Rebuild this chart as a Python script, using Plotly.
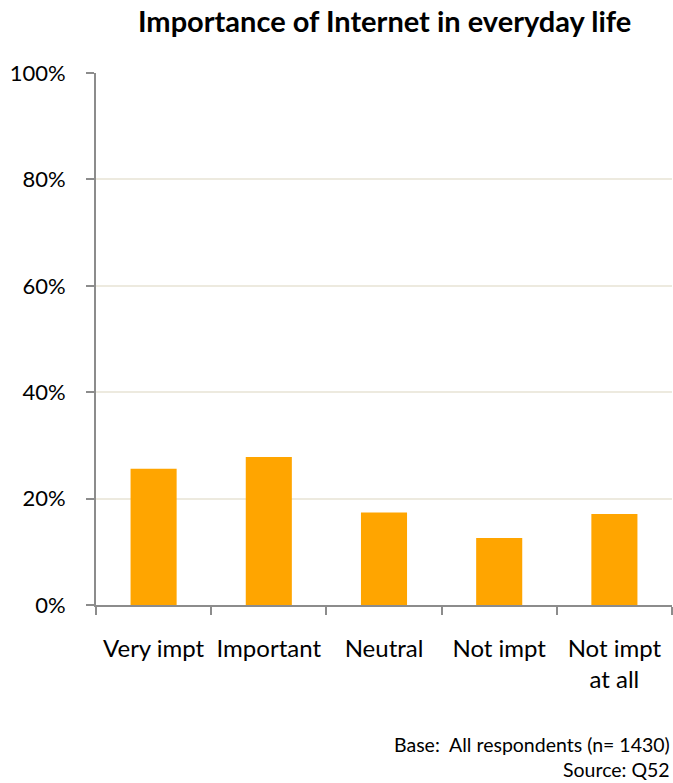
import plotly.graph_objects as go

categories = ["Very impt", "Important", "Neutral", "Not impt", "Not impt<br>at all"]
values = [25.6, 27.8, 17.4, 12.6, 17.1]
y_ticks = [0, 20, 40, 60, 80, 100]
y_tick_labels = ["0%", "20%", "40%", "60%", "80%", "100%"]

FONT = "Lato"

fig = go.Figure(go.Bar(
    x=categories, y=values, width=0.4,
    marker=dict(color="#FFA500", line=dict(width=0)),
    hoverinfo="skip",
))

fig.update_layout(
    width=673, height=783,
    margin=dict(l=96, r=1, t=73, b=178),
    paper_bgcolor="white", plot_bgcolor="white",
    showlegend=False,
    font=dict(family=FONT, color="black"),
    title=dict(text="<b>Importance of Internet in everyday life</b>",
               x=0.5715, xanchor="center", y=0.972, yanchor="middle",
               font=dict(size=29, family=FONT, color="black")),
    bargap=0.6,
)
fig.update_xaxes(
    showline=True, linecolor="#8C8C8C", linewidth=2,
    ticks="outside", tickson="boundaries", ticklen=8, tickcolor="#8C8C8C", tickwidth=2,
    tickfont=dict(size=24, family=FONT, color="black"),
    tickangle=0, automargin=False,
    ticklabelstandoff=21,
    showgrid=False, fixedrange=True,
)
fig.update_yaxes(
    range=[0, 100], tickvals=y_ticks, ticktext=y_tick_labels,
    showline=True, linecolor="#8C8C8C", linewidth=2,
    ticks="outside", ticklen=8, tickcolor="#8C8C8C", tickwidth=2,
    tickfont=dict(size=22, family=FONT, color="black"),
    ticklabelstandoff=16, automargin=False,
    showgrid=True, gridcolor="#EDEADF", gridwidth=2,
    zeroline=False, fixedrange=True,
)
fig.add_annotation(text="Base:  All respondents (n= 1430)", xref="paper", yref="paper",
                   x=1, y=-0.263, xanchor="right", yanchor="middle", showarrow=False,
                   font=dict(size=19.5, family=FONT, color="black"))
fig.add_annotation(text="Source: Q52", xref="paper", yref="paper",
                   x=1, y=-0.31, xanchor="right", yanchor="middle", showarrow=False,
                   font=dict(size=19.5, family=FONT, color="black"))

fig.write_html("out.html")
